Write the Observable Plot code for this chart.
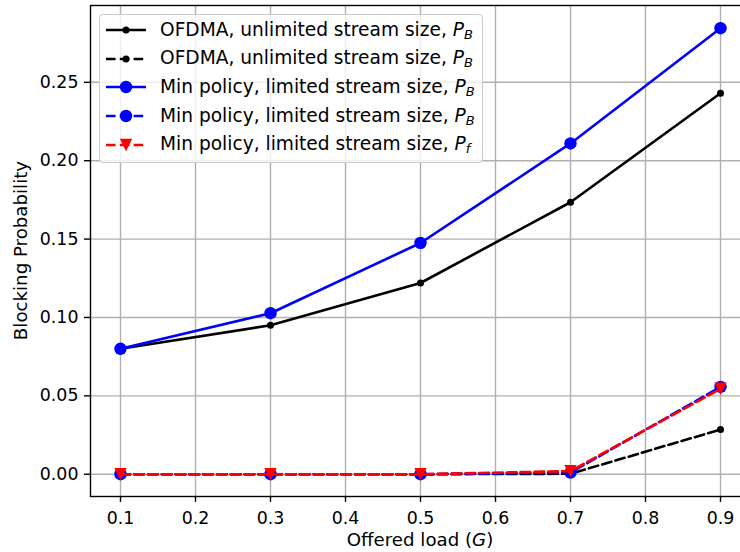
<!DOCTYPE html>
<html><head><meta charset="utf-8">
<script src="https://cdn.jsdelivr.net/npm/d3@7"></script>
<script src="https://cdn.jsdelivr.net/npm/@observablehq/plot@0.6"></script>
<style>
html,body{margin:0;padding:0;background:#fff;overflow:hidden;}
#wrap{position:relative;width:740px;height:552px;overflow:hidden;font-family:"DejaVu Sans",sans-serif;}
#legend{position:absolute;left:99px;top:14px;box-sizing:border-box;height:149px;padding:1px 7px 0 6px;background:rgba(255,255,255,0.8);border:1px solid #cccccc;border-radius:4px;font-size:18.6px;color:#000;}
.row{display:flex;align-items:center;height:28.6px;white-space:nowrap;}
.row svg{flex:none;margin-right:14px;}
</style></head><body><div id="wrap"></div>
<script>
// ---- data ----
const loads = [0.1, 0.3, 0.5, 0.7, 0.9];
const ofdmaUnlimitedSolid = [0.080, 0.095, 0.122, 0.1735, 0.243];
const ofdmaUnlimitedDashed = [0.000, 0.000, 0.000, 0.0003, 0.0285];
const minPolicySolid = [0.080, 0.1027, 0.1475, 0.211, 0.2845];
const minPolicyDashed = [0.000, 0.000, 0.000, 0.001, 0.0557];
const minPolicyPf = [0.000, 0.000, 0.000, 0.002, 0.0545];
const seriesLabels = ["OFDMA, unlimited stream size, ", "OFDMA, unlimited stream size, ", "Min policy, limited stream size, ", "Min policy, limited stream size, ", "Min policy, limited stream size, "];
const seriesSymbols = ["B", "B", "B", "B", "f"];
const xTicks = [0.1, 0.2, 0.3, 0.4, 0.5, 0.6, 0.7, 0.8, 0.9];
const yTicks = [0.00, 0.05, 0.10, 0.15, 0.20, 0.25];
const xLabel = ["Offered load (", "G", ")"];
const yLabel = "Blocking Probability";

// ---- styles ----
const seriesValues = [ofdmaUnlimitedSolid, ofdmaUnlimitedDashed, minPolicySolid, minPolicyDashed, minPolicyPf];
const DASH = "9.6,4.2";
const styles = [
  {color: "black", dash: null, marker: "circle", r: 3.5},
  {color: "black", dash: DASH, marker: "circle", r: 3.5},
  {color: "blue", dash: null, marker: "circle", r: 6.2},
  {color: "blue", dash: DASH, marker: "circle", r: 6.2},
  {color: "red", dash: DASH, marker: "tri", r: 6.2}
];
const triDown = {draw(ctx, size) { const h = Math.sqrt(size / Math.PI); ctx.moveTo(-h, -h); ctx.lineTo(h, -h); ctx.lineTo(0, h); ctx.closePath(); }};
const FS = 17.4, LFS = 18.2;

const W = 740, H = 552, mL = 90, mT = 5, mB = 56, mR = -10;
const marks = [
  Plot.gridX(xTicks, {stroke: "#b0b0b0", strokeOpacity: 1, strokeWidth: 1.4}),
  Plot.gridY(yTicks, {stroke: "#b0b0b0", strokeOpacity: 1, strokeWidth: 1.4}),
];
seriesValues.forEach((vals, i) => {
  const s = styles[i];
  const data = loads.map((x, j) => ({x, y: vals[j]}));
  marks.push(Plot.line(data, {x: "x", y: "y", stroke: s.color, strokeWidth: 2.6, strokeDasharray: s.dash}));
  marks.push(Plot.dot(data, {x: "x", y: "y", r: s.r, fill: s.color, stroke: "none", symbol: s.marker === "tri" ? triDown : "circle"}));
});
marks.push(
  Plot.frame({stroke: "black", strokeWidth: 1.4}),
  Plot.axisX(xTicks, {tickSize: 6, tickPadding: 9, fontSize: FS, tickFormat: d3.format(".1f"), label: null, stroke: "black", strokeWidth: 1.4}),
  Plot.axisY(yTicks, {tickSize: 6, tickPadding: 6, fontSize: FS, tickFormat: d3.format(".2f"), label: null, stroke: "black", strokeWidth: 1.4})
);

const chart = Plot.plot({
  width: W, height: H,
  marginLeft: mL, marginTop: mT, marginBottom: mB, marginRight: mR,
  x: {domain: [0.06, 0.94]},
  y: {domain: [-0.0142, 0.2990]},
  style: {fontFamily: "DejaVu Sans, sans-serif", background: "white", color: "black"},
  marks
});
const wrap = document.getElementById("wrap");
wrap.appendChild(chart);

// axis labels with italic parts
const svg = d3.select(chart);
const xl = svg.append("text").attr("x", (mL + W - mR) / 2).attr("y", 546).attr("text-anchor", "middle")
  .attr("font-size", LFS).attr("font-family", "DejaVu Sans, sans-serif").attr("fill", "black");
xl.append("tspan").text(xLabel[0]);
xl.append("tspan").attr("font-style", "italic").text(xLabel[1]);
xl.append("tspan").text(xLabel[2]);
svg.append("text").attr("transform", `translate(27,${(mT + H - mB) / 2}) rotate(-90)`).attr("text-anchor", "middle")
  .attr("font-size", LFS).attr("font-family", "DejaVu Sans, sans-serif").attr("fill", "black").text(yLabel);

// legend
const leg = document.createElement("div");
leg.id = "legend";
seriesLabels.forEach((lab, i) => {
  const s = styles[i];
  const row = document.createElement("div");
  row.className = "row";
  let marker;
  if (s.marker === "tri") marker = `<path d="M${20 - s.r},${14 - s.r}L${20 + s.r},${14 - s.r}L20,${14 + s.r}Z" fill="${s.color}"/>`;
  else marker = `<circle cx="20" cy="14" r="${s.r}" fill="${s.color}"/>`;
  row.innerHTML = `<svg width="40" height="28"><line x1="0" x2="40" y1="14" y2="14" stroke="${s.color}" stroke-width="2.6" ${s.dash ? `stroke-dasharray="${s.dash}"` : ""}/>${marker}</svg><span>${lab}<i>P</i><sub style="font-size:13px;font-style:italic;vertical-align:-3px">${seriesSymbols[i]}</sub></span>`;
  leg.appendChild(row);
});
wrap.appendChild(leg);
</script></body></html>
